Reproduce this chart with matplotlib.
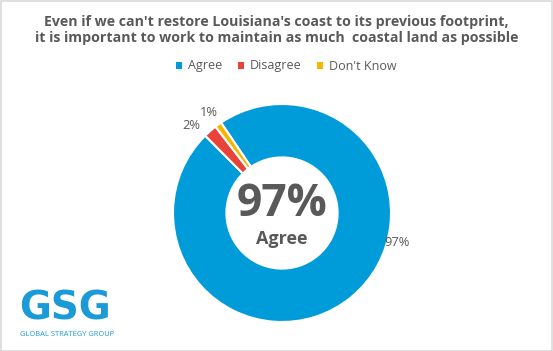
import matplotlib
matplotlib.use("Agg")
import matplotlib.pyplot as plt
import numpy as np
from matplotlib.patches import Rectangle

categories = ["Agree", "Disagree", "Don't Know"]
values = [97, 2, 1]
labels = ["97%", "2%", "1%"]
colors = ["#009BD9", "#E8423A", "#F6B500"]
title = "Even if we can't restore Louisiana's coast to its previous footprint,\nit is important to work to maintain as much  coastal land as possible"
center_big = "97%"
center_small = "Agree"

W, H = 553, 351
fig = plt.figure(figsize=(W / 100, H / 100), dpi=100)
fig.patch.set_facecolor("white")
fig.add_artist(Rectangle((0.5 / W, 0.5 / H), 1 - 1.5 / W, 1 - 1.5 / H, transform=fig.transFigure,
                         fill=False, edgecolor="#D9D9D9", linewidth=1.2))

gray = "#595959"
font = "Open Sans"

fig.text(0.5, 1 - 30 / H, title, ha="center", va="center", fontsize=10.2, fontweight="bold",
         color=gray, family=font, linespacing=1.2)

# pie axes: center (282,213), radius 109 px
R = 109
cx, cy = 282, 213
ax = fig.add_axes([(cx - R) / W, 1 - (cy + R) / H, 2 * R / W, 2 * R / H])
wedges, _ = ax.pie(values, colors=colors, startangle=124, counterclock=False,
                   radius=1.0, wedgeprops=dict(width=0.49, edgecolor="white", linewidth=1.5))
ax.set_xlim(-1, 1)
ax.set_ylim(-1, 1)
ax.set_aspect("equal")
ax.axis("off")

# data labels
label_pos = [(-14.6, 1.09), (136, 1.16), (126, 1.14)]
for lab, (ang, d) in zip(labels, label_pos):
    a = np.deg2rad(ang)
    ax.text(d * np.cos(a), d * np.sin(a), lab, ha="center", va="center", fontsize=9.3,
            color=gray, family=font, clip_on=False)

ax.text(0, 0.08, center_big, ha="center", va="center", fontsize=32, fontweight="bold",
        color=gray, family=font)
ax.text(0, -0.24, center_small, ha="center", va="center", fontsize=13, fontweight="bold",
        color=gray, family=font)

# legend
handles = [Rectangle((0, 0), 1, 1, facecolor=c) for c in colors]
leg = fig.legend(handles, categories, loc="center", bbox_to_anchor=(0.518, 1 - 66 / H), ncol=3,
                 frameon=False, handlelength=0.5, handleheight=0.5, handletextpad=0.5,
                 columnspacing=1.2, prop=dict(family=font, size=9))
for t in leg.get_texts():
    t.set_color(gray)

# logo
fig.text(19 / W, 1 - 309 / H, "GSG", ha="left", va="center", fontsize=28, fontweight="bold",
         color="#1A9AD7", family="DejaVu Sans")
fig.text(20 / W, 1 - 334 / H, "GLOBAL STRATEGY GROUP", ha="left", va="center", fontsize=5.4,
         color="#1A9AD7", family=font)

fig.savefig("out.png", dpi=100, facecolor="white")
